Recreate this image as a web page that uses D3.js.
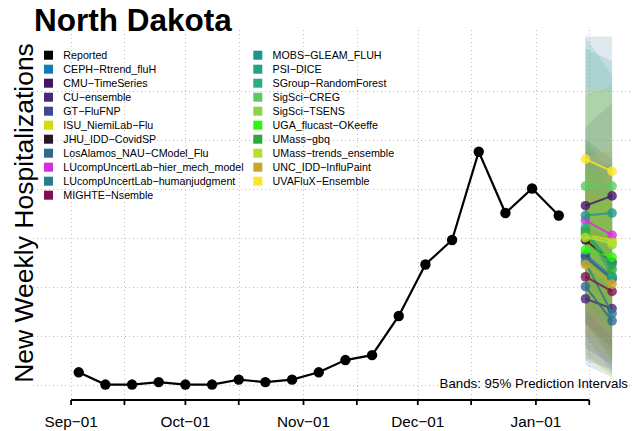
<!DOCTYPE html>
<html>
<head>
<meta charset="utf-8">
<script src="https://cdn.jsdelivr.net/npm/d3@7"></script>
<style>
  html, body { margin: 0; padding: 0; background: #fff; }
  svg { display: block; font-family: "Liberation Sans", Arial, Helvetica, sans-serif; }
</style>
</head>
<body>
<svg id="chart" width="632" height="431"></svg>
<script>
// ---- Reported weekly hospitalizations ----
const reportedDates = ["2022-09-03","2022-09-10","2022-09-17","2022-09-24","2022-10-01","2022-10-08",
  "2022-10-15","2022-10-22","2022-10-29","2022-11-05","2022-11-12","2022-11-19","2022-11-26",
  "2022-12-03","2022-12-10","2022-12-17","2022-12-24","2022-12-31","2023-01-07"];
const reportedValues = [5, 0, 0, 1, 0, 0, 2, 1, 2, 5, 10, 12, 28, 49, 59, 95, 70, 80, 69];

// ---- Forecast models ----
const models = ["CEPH\u2212Rtrend_fluH","CMU\u2212TimeSeries","CU\u2212ensemble","GT\u2212FluFNP",
  "ISU_NiemiLab\u2212Flu","JHU_IDD\u2212CovidSP","LosAlamos_NAU\u2212CModel_Flu",
  "LUcompUncertLab\u2212hier_mech_model","LUcompUncertLab\u2212humanjudgment","MIGHTE\u2212Nsemble",
  "MOBS\u2212GLEAM_FLUH","PSI\u2212DICE","SGroup\u2212RandomForest","SigSci\u2212CREG","SigSci\u2212TSENS",
  "UGA_flucast\u2212OKeeffe","UMass\u2212gbq","UMass\u2212trends_ensemble","UNC_IDD\u2212InfluPaint",
  "UVAFluX\u2212Ensemble"];
const modelColors = ["#0e7fb6","#451466","#482878","#3e4a89","#d3dc10","#2c1428","#2f6b8e",
  "#d32ee0","#287d8e","#7b1055","#1f968b","#20a386","#29af7f","#5ec962","#8bd646",
  "#2af812","#2fa83a","#b5e02c","#c8a629","#fde725"];

const forecastDates = ["2023-01-14", "2023-01-21"];
// point forecasts (median) at the two horizons
const medianH1 = [53, 73, 35, 52, 61, 59, 40, 67, 50, 44, 69, 63, 64, 81, 61, 55, 62, 60, 49, 92];
const medianH2 = [44, 77, 31, 43, 59, 50, 26, 61, 29, 38, 70, 49, 44, 81, 57, 52, 47, 58, 41, 87];
// 95% prediction interval bounds at the two horizons
const lowerH1 = [20, 40, 10, 25, 38, 15,  8, 40, 12, 25, 30, 35, 40, 45, 35, 35, 25, 30, 20, 12];
const lowerH2 = [ 5, 35,  6, 10, 30,  8,  3, 30,  4, 15, 22, 20, 20, 40, 28, 30, 12, 20, 10,  2];
const upperH1 = [90,105, 65, 80, 85,100,142, 95, 95, 65,137,142, 90,118, 88, 75,100, 92, 80,121];
const upperH2 = [90,115, 60, 78, 90, 92,142, 95, 80, 60,132,126, 75,122, 85, 75, 85, 98, 75,120];

// ---- Axis ticks ----
const tickDates = ["2022-09-01","2022-09-15","2022-10-01","2022-10-15","2022-11-01","2022-11-15",
  "2022-12-01","2022-12-15","2023-01-01","2023-01-15"];
const tickLabels = ["Sep\u221201","","Oct\u221201","","Nov\u221201","","Dec\u221201","","Jan\u221201",""];
const gridValues = [0, 20, 40, 60, 80, 100, 120];

const parse = d3.utcParse("%Y-%m-%d");
const svg = d3.select("#chart");

// plot region
const plot = { left: 33, right: 654, top: 30, bottom: 400 };

const x = d3.scaleUtc()
  .domain([parse("2022-08-22"), parse("2023-02-01")])
  .range([plot.left, plot.right]);
const y = d3.scaleLinear()
  .domain([-6.3, 144.7])
  .range([plot.bottom, plot.top]);

svg.append("defs").append("clipPath").attr("id", "plotClip")
  .append("rect")
  .attr("x", plot.left).attr("y", plot.top)
  .attr("width", plot.right - plot.left).attr("height", plot.bottom - plot.top);

// ---- grid ----
const grid = svg.append("g").attr("stroke", "#bdbdbd").attr("stroke-width", 1)
  .attr("stroke-dasharray", "1,3").attr("fill", "none");
grid.selectAll("line.h").data(gridValues).join("line").attr("class", "h")
  .attr("x1", plot.left).attr("x2", plot.right)
  .attr("y1", d => Math.round(y(d)) + 0.5).attr("y2", d => Math.round(y(d)) + 0.5);
grid.selectAll("line.v").data(tickDates).join("line").attr("class", "v")
  .attr("x1", d => Math.round(x(parse(d))) + 0.5).attr("x2", d => Math.round(x(parse(d))) + 0.5)
  .attr("y1", plot.top).attr("y2", plot.bottom);

const body = svg.append("g").attr("clip-path", "url(#plotClip)");

// ---- prediction interval bands ----
const fd = forecastDates.map(parse);
const bands = models.map((m, i) => ({
  color: modelColors[i],
  pts: [[fd[0], upperH1[i]], [fd[1], upperH2[i]], [fd[1], lowerH2[i]], [fd[0], lowerH1[i]]]
}));
body.append("g").selectAll("path").data(bands).join("path")
  .attr("d", b => d3.line().x(p => x(p[0])).y(p => y(p[1]))(b.pts) + "Z")
  .attr("fill", b => b.color).attr("fill-opacity", 0.15).attr("stroke", "none");

// ---- reported series ----
const rep = reportedDates.map((d, i) => ({ date: parse(d), value: reportedValues[i] }));
body.append("path").datum(rep)
  .attr("d", d3.line().x(d => x(d.date)).y(d => y(d.value)))
  .attr("fill", "none").attr("stroke", "#000").attr("stroke-width", 2.2);
body.append("g").selectAll("circle").data(rep).join("circle")
  .attr("cx", d => x(d.date)).attr("cy", d => y(d.value)).attr("r", 5.2).attr("fill", "#000");

// ---- forecast medians ----
const fg = body.append("g");
models.forEach((m, i) => {
  const pts = [[fd[0], medianH1[i]], [fd[1], medianH2[i]]];
  fg.append("path")
    .attr("d", d3.line().x(p => x(p[0])).y(p => y(p[1]))(pts))
    .attr("fill", "none").attr("stroke", modelColors[i]).attr("stroke-width", 2).attr("stroke-opacity", 0.8);
  fg.append("g").selectAll("circle").data(pts).join("circle")
    .attr("cx", p => x(p[0])).attr("cy", p => y(p[1])).attr("r", 4.8)
    .attr("fill", modelColors[i]).attr("fill-opacity", 0.8);
});

// ---- x axis ----
const ax = svg.append("g");
const t0 = x(parse(tickDates[0])), t1 = x(parse(tickDates[tickDates.length - 1]));
ax.append("line").attr("x1", t0).attr("x2", t1).attr("y1", plot.bottom).attr("y2", plot.bottom)
  .attr("stroke", "#000").attr("stroke-width", 1.8);
ax.selectAll("line.tick").data(tickDates).join("line").attr("class", "tick")
  .attr("x1", d => x(parse(d))).attr("x2", d => x(parse(d)))
  .attr("y1", plot.bottom).attr("y2", plot.bottom + 5)
  .attr("stroke", "#000").attr("stroke-width", 1.8);
ax.selectAll("text").data(tickDates).join("text")
  .attr("x", d => x(parse(d))).attr("y", 427)
  .attr("text-anchor", "middle").attr("font-size", 15.3).attr("fill", "#000")
  .text((d, i) => tickLabels[i]);

// ---- titles ----
svg.append("text").attr("x", 34).attr("y", 30.5)
  .attr("font-size", 31.5).attr("font-weight", "bold").attr("fill", "#000")
  .text("North Dakota");
svg.append("text")
  .attr("transform", `translate(32.5,${(plot.top + plot.bottom) / 2 - 2}) rotate(-90)`)
  .attr("text-anchor", "middle").attr("font-size", 26.5).attr("fill", "#000")
  .text("New Weekly Hospitalizations");
svg.append("text").attr("x", 628).attr("y", 388)
  .attr("text-anchor", "end").attr("font-size", 13.3).attr("fill", "#000")
  .text("Bands: 95% Prediction Intervals");

// ---- legend ----
const legendItems = [{ name: "Reported", color: "#000" }]
  .concat(models.map((m, i) => ({ name: m, color: modelColors[i] })));
const lg = svg.append("g");
legendItems.forEach((it, i) => {
  const col = i < 11 ? 0 : 1;
  const row = col === 0 ? i : i - 11;
  const sx = col === 0 ? 44 : 253.3;
  const cy = 55.2 + row * 14.0;
  lg.append("rect").attr("x", sx).attr("y", cy - 4.5).attr("width", 9).attr("height", 9).attr("fill", it.color);
  lg.append("text").attr("x", sx + 19.3).attr("y", cy + 3.8)
    .attr("font-size", 10.7).attr("fill", "#000").text(it.name);
});
</script>
</body>
</html>
